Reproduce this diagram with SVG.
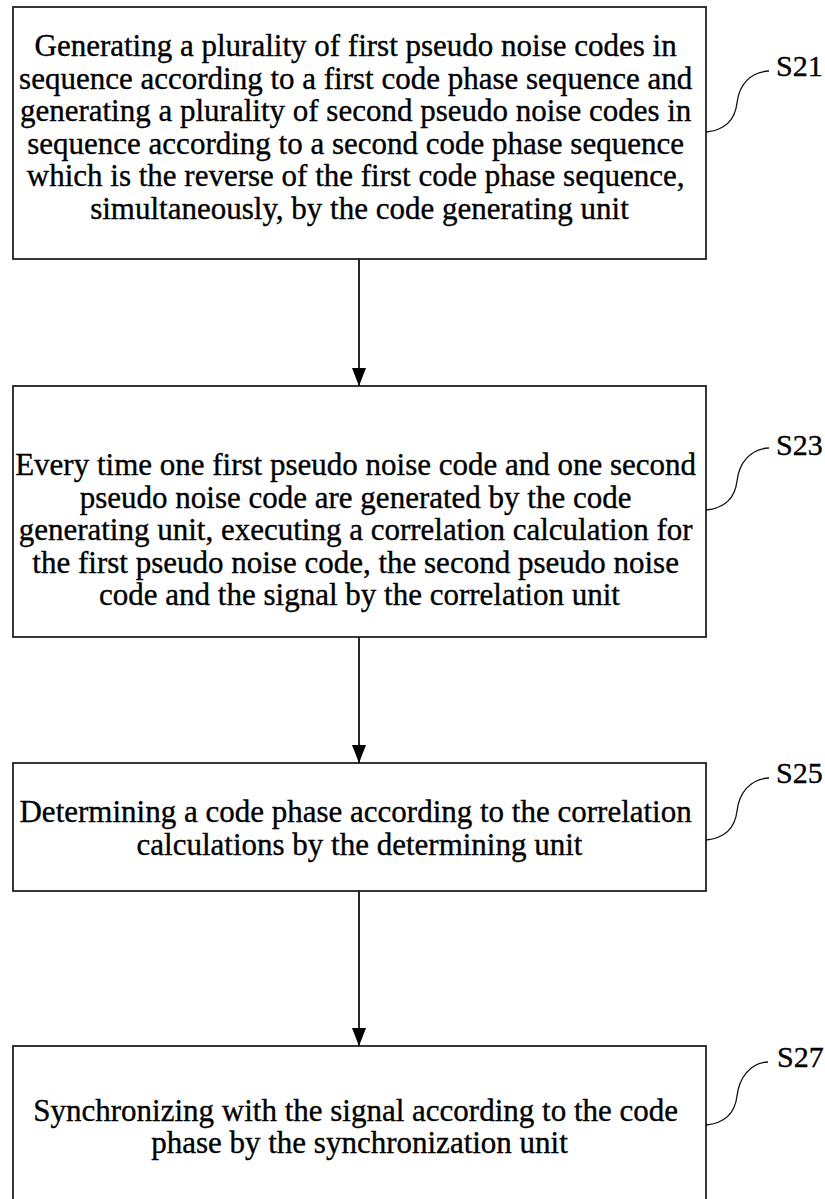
<svg xmlns="http://www.w3.org/2000/svg" width="825" height="1199" viewBox="0 0 825 1199">
  <style>
    .box { fill: #ffffff; stroke: #222222; stroke-width: 1.8; }
    .txt { font-family: "Liberation Serif", "Times New Roman", serif; font-size: 31px; fill: #000000; stroke: #000000; stroke-width: 0.35; text-anchor: middle; }
    .lbl { font-family: "Liberation Serif", "Times New Roman", serif; font-size: 30px; fill: #000000; stroke: #000000; stroke-width: 0.35; }
    .flow { stroke: #111111; stroke-width: 1.8; fill: none; marker-end: url(#arrow); }
    .lead { stroke: #111111; stroke-width: 1.3; fill: none; }
  </style>
  <defs>
    <!-- solid triangular arrowhead, tip at the end of the line -->
    <marker id="arrow" markerWidth="18" markerHeight="14" refX="18" refY="7" orient="auto" markerUnits="userSpaceOnUse" viewBox="0 0 18 14">
      <path d="M0,0 L18,7 L0,14 Z" fill="#000000"/>
    </marker>
  </defs>
  <rect width="825" height="1199" fill="#ffffff"/>

  <!-- S21 -->
  <g id="step-s21">
    <rect class="box" x="13" y="7" width="693" height="252"/>
    <text class="txt" x="359.5">
      <tspan x="359.5" y="56">Generating a plurality of first pseudo noise codes in</tspan>
      <tspan x="359.5" y="88.5">sequence according to a first code phase sequence and</tspan>
      <tspan x="359.5" y="121">generating a plurality of second pseudo noise codes in</tspan>
      <tspan x="359.5" y="153.5">sequence according to a second code phase sequence</tspan>
      <tspan x="359.5" y="186">which is the reverse of the first code phase sequence,</tspan>
      <tspan x="359.5" y="218.5">simultaneously, by the code generating unit</tspan>
    </text>
    <path class="lead" d="M706,132 C726,130 735,120 737,103 C739,85 750,72 769,71"/>
    <text class="lbl" x="776" y="76">S21</text>
  </g>

  <!-- S23 -->
  <g id="step-s23">
    <rect class="box" x="13" y="386" width="693" height="251"/>
    <text class="txt" x="359.5">
      <tspan x="359.5" y="475">Every time one first pseudo noise code and one second</tspan>
      <tspan x="359.5" y="507.5">pseudo noise code are generated by the code</tspan>
      <tspan x="359.5" y="540">generating unit, executing a correlation calculation for</tspan>
      <tspan x="359.5" y="572.5">the first pseudo noise code, the second pseudo noise</tspan>
      <tspan x="359.5" y="605">code and the signal by the correlation unit</tspan>
    </text>
    <path class="lead" d="M706,510 C726,508 735,498 737,481 C739,463 750,449 769,448"/>
    <text class="lbl" x="776" y="455">S23</text>
  </g>

  <!-- S25 -->
  <g id="step-s25">
    <rect class="box" x="13" y="763" width="693" height="128"/>
    <text class="txt" x="359.5">
      <tspan x="359.5" y="822">Determining a code phase according to the correlation</tspan>
      <tspan x="359.5" y="855">calculations by the determining unit</tspan>
    </text>
    <path class="lead" d="M706,840 C726,838 735,828 737,811 C739,793 750,779 769,778"/>
    <text class="lbl" x="776" y="783">S25</text>
  </g>

  <!-- S27 -->
  <g id="step-s27">
    <rect class="box" x="13" y="1046" width="693" height="160"/>
    <text class="txt" x="359.5">
      <tspan x="359.5" y="1121">Synchronizing with the signal according to the code</tspan>
      <tspan x="359.5" y="1153">phase by the synchronization unit</tspan>
    </text>
    <path class="lead" d="M706,1125 C726,1123 735,1113 737,1096 C739,1078 750,1063 768,1062"/>
    <text class="lbl" x="777" y="1067">S27</text>
  </g>

  <!-- flow connectors -->
  <g id="connectors">
    <line class="flow" x1="359" y1="259" x2="359" y2="386"/>
    <line class="flow" x1="359" y1="637" x2="359" y2="763"/>
    <line class="flow" x1="359" y1="891" x2="359" y2="1046"/>
  </g>
</svg>
